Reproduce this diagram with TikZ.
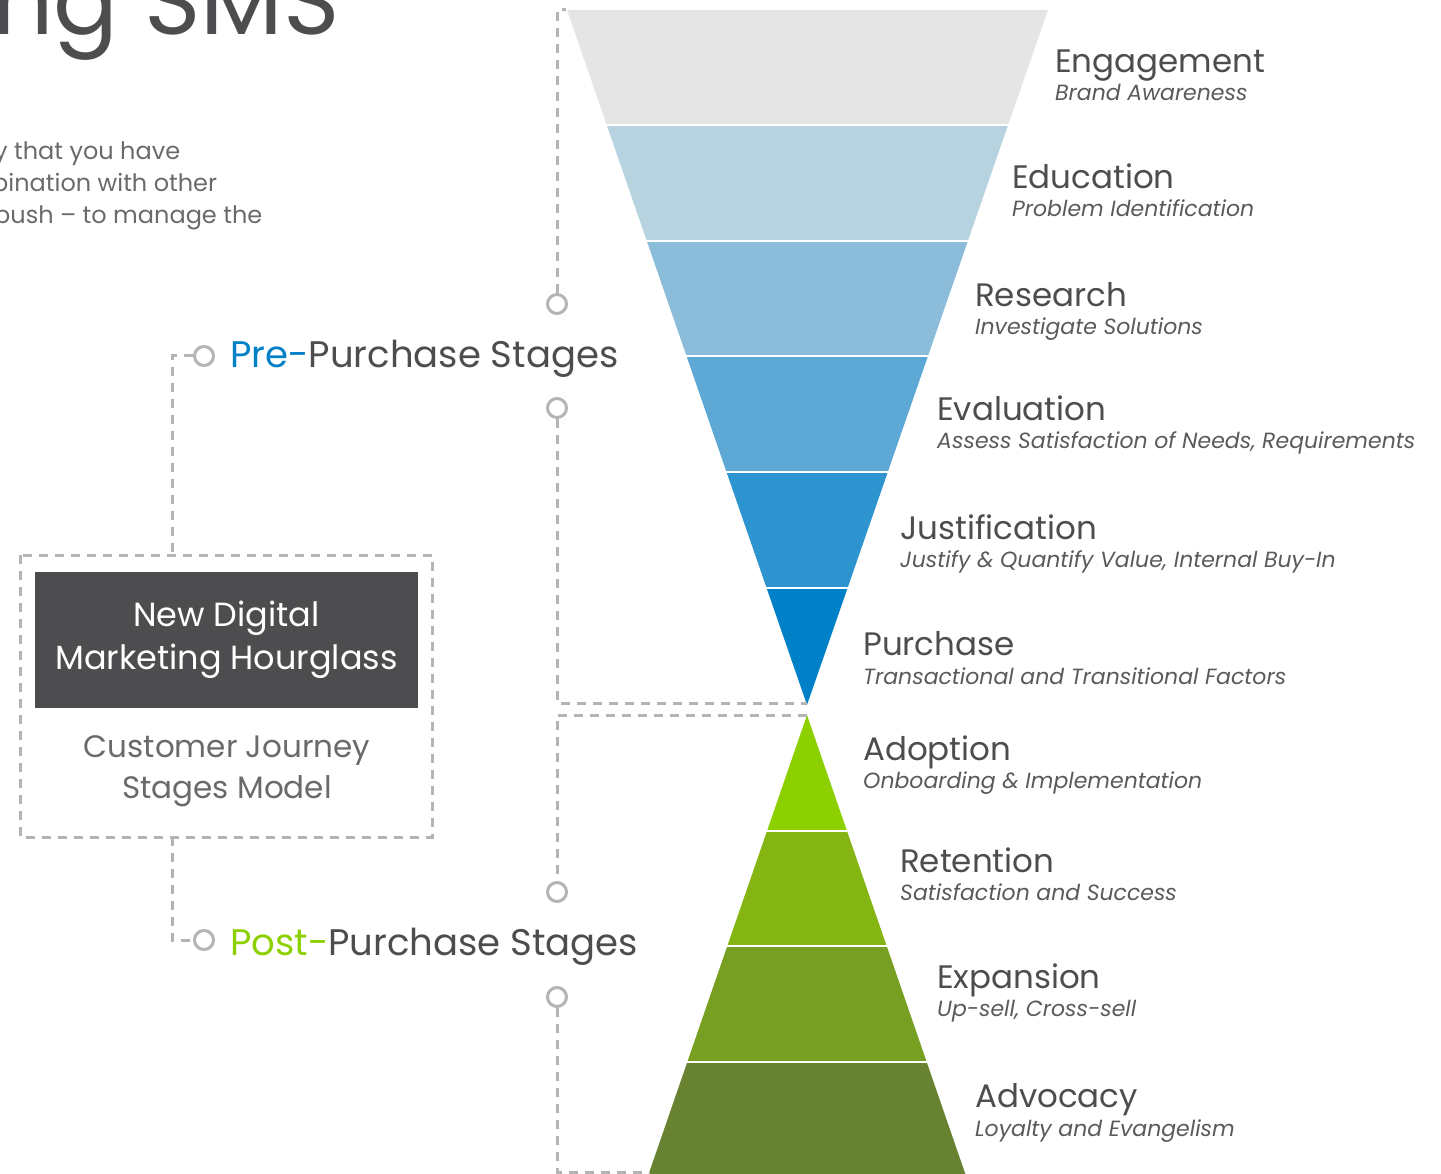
\documentclass[tikz,border=0pt]{standalone}
\usepackage{fontspec}
\setmainfont{Poppins}
\definecolor{bandA}{HTML}{E5E5E5}
\definecolor{bandB}{HTML}{B8D3E0}
\definecolor{bandC}{HTML}{8BBCDA}
\definecolor{bandD}{HTML}{5DA8D4}
\definecolor{bandE}{HTML}{2E94CF}
\definecolor{bandF}{HTML}{0080C6}
\definecolor{gA}{HTML}{8CD000}
\definecolor{gB}{HTML}{84B512}
\definecolor{gC}{HTML}{779F21}
\definecolor{gD}{HTML}{678230}
\definecolor{dashgray}{HTML}{B4B4B6}
\definecolor{darkbox}{HTML}{4D4D4F}
\definecolor{titlegray}{HTML}{4D4D4F}
\definecolor{subgray}{HTML}{5A5A5C}
\definecolor{lightgray}{HTML}{6A6A6C}
\begin{document}
\begin{tikzpicture}[x=1pt,y=-1pt,
  dashline/.style={draw=dashgray,line width=3pt,dash pattern=on 9pt off 7pt},
  ring/.style={circle,draw=dashgray,line width=3pt,fill=white,minimum size=19pt,inner sep=0pt},
  stagetitle/.style={anchor=base west,inner sep=0pt,text=titlegray,font=\fontsize{32.5}{36}\selectfont},
  stagesub/.style={anchor=base west,inner sep=0pt,text=subgray,font=\itshape\fontsize{22}{26}\selectfont},
  sep/.style={draw=white,line width=2pt}]
\useasboundingbox (0,0) rectangle (1441,1174);

% title and paragraph (cut off)
\node[anchor=base east,inner sep=0pt,text=titlegray,font=\fontsize{96}{100}\selectfont] (title) at (340,35) {ng SMS};
\node[anchor=base west,inner sep=0pt,text=lightgray,font=\fontsize{24}{30}\selectfont] (p1) at (-6,160) {y that you have};
\node[anchor=base west,inner sep=0pt,text=lightgray,font=\fontsize{24}{30}\selectfont] (p2) at (-8,192) {bination with other};
\node[anchor=base west,inner sep=0pt,text=lightgray,font=\fontsize{24}{30}\selectfont] (p3) at (-6,224) {push -- to manage the};

% top funnel
\fill[bandA] (567,10) -- (1048,10) -- (1008.1,125) -- (606.7,125) -- cycle;
\fill[bandB] (606.7,125) -- (1008.1,125) -- (967.9,241) -- (646.8,241) -- cycle;
\fill[bandC] (646.8,241) -- (967.9,241) -- (928.0,356) -- (686.5,356) -- cycle;
\fill[bandD] (686.5,356) -- (928.0,356) -- (887.8,472) -- (726.5,472) -- cycle;
\fill[bandE] (726.5,472) -- (887.8,472) -- (847.6,588) -- (766.6,588) -- cycle;
\fill[bandF] (766.6,588) -- (847.6,588) -- (807,705) -- cycle;
\foreach \y/\l/\r in {125/600/1015,241/640/975,356/680/935,472/720/895,588/760/855}
  \draw[sep] (\l,\y) -- (\r,\y);

% bottom pyramid
\fill[gA] (807,715) -- (847,831) -- (767,831) -- cycle;
\fill[gB] (767,831) -- (847,831) -- (886.7,946) -- (727.3,946) -- cycle;
\fill[gC] (727.3,946) -- (886.7,946) -- (926.7,1062) -- (687.3,1062) -- cycle;
\fill[gD] (687.3,1062) -- (926.7,1062) -- (967.4,1180) -- (646.6,1180) -- cycle;
\foreach \y/\l/\r in {831/760/855,946/720/895,1062/680/935}
  \draw[sep] (\l,\y) -- (\r,\y);

% right-hand labels
\node[stagetitle] (t1) at (1055,73) {Engagement};
\node[stagesub] (s1) at (1055,101) {Brand Awareness};
\node[stagetitle] (t2) at (1012,189) {Education};
\node[stagesub] (s2) at (1012,217) {Problem Identification};
\node[stagetitle] (t3) at (975,307) {Research};
\node[stagesub] (s3) at (975,335) {Investigate Solutions};
\node[stagetitle] (t4) at (937,420) {Evaluation};
\node[stagesub] (s4) at (937,448) {Assess Satisfaction of Needs, Requirements};
\node[stagetitle] (t5) at (900,539) {Justification};
\node[stagesub] (s5) at (900,567) {Justify \& Quantify Value, Internal Buy-In};
\node[stagetitle] (t6) at (863,655) {Purchase};
\node[stagesub] (s6) at (863,684) {Transactional and Transitional Factors};
\node[stagetitle] (t7) at (863,760) {Adoption};
\node[stagesub] (s7) at (863,788) {Onboarding \& Implementation};
\node[stagetitle] (t8) at (900,872) {Retention};
\node[stagesub] (s8) at (900,900) {Satisfaction and Success};
\node[stagetitle] (t9) at (937,988) {Expansion};
\node[stagesub] (s9) at (937,1016) {Up-sell, Cross-sell};
\node[stagetitle] (t10) at (975,1107) {Advocacy};
\node[stagesub] (s10) at (975,1136) {Loyalty and Evangelism};

% middle dashed connectors
\coordinate (tl) at (557,10);
\coordinate (tlr) at (566,10);
\coordinate (m1) at (557,703);
\coordinate (apexT) at (807,703);
\coordinate (apexB) at (807,715);
\coordinate (m2) at (557,715);
\coordinate (bl) at (557,1172);
\coordinate (blr) at (650,1172);
\node[ring] (c1) at (557,304) {};
\node[ring] (c2) at (557,408) {};
\node[ring] (c3) at (557,892) {};
\node[ring] (c4) at (557,997) {};
\draw[dashline] (c1.north) -- (tl) -- (tlr);
\draw[dashline] (c2.south) -- (m1) -- (apexT);
\draw[dashline] (apexB) -- (m2) -- (c3.north);
\draw[dashline] (c4.south) -- (bl) -- (blr);

% left box
\draw[dashline] (20,555) rectangle (432,837);
\node[fill=darkbox,minimum width=383pt,minimum height=136pt,inner sep=0pt] (box) at (226.5,640) {};
\node[align=center,text=white,font=\fontsize{33.5}{43}\selectfont] (boxtext) at (box.center) {New Digital\\Marketing Hourglass};
\node[align=center,text=lightgray,font=\fontsize{31}{41}\selectfont] (sub) at (227,771) {Customer Journey\\Stages Model};

\coordinate (bt) at (172,555);
\coordinate (bb) at (172,837);
\coordinate (lt) at (172,356);
\coordinate (lb) at (172,940);
\node[ring] (cl1) at (204,356) {};
\node[ring] (cl2) at (204,940) {};
\draw[dashline] (cl1.west) -- (lt) -- (bt);
\draw[dashline] (bb) -- (lb) -- (cl2.west);

\node[anchor=base west,inner sep=0pt,text=titlegray,font=\fontsize{37}{44}\selectfont] (pre) at (230,367) {\textcolor{bandF}{Pre-}Purchase Stages};
\node[anchor=base west,inner sep=0pt,text=titlegray,font=\fontsize{37}{44}\selectfont] (post) at (230,955) {\textcolor{gA}{Post-}Purchase Stages};
\end{tikzpicture}
\end{document}
